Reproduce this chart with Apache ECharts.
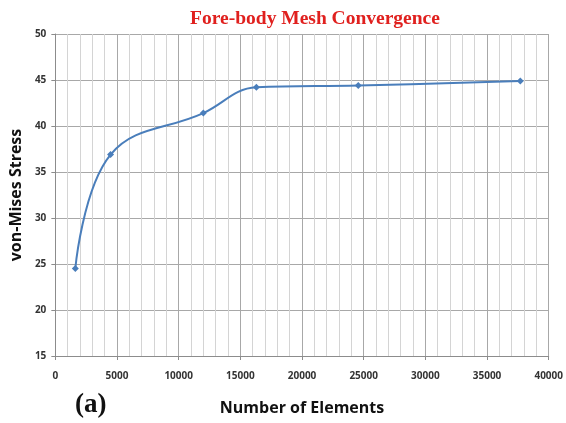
<!DOCTYPE html>
<html>
<head>
<meta charset="utf-8">
<script src="https://cdn.jsdelivr.net/npm/echarts@6/dist/echarts.min.js"></script>
<style>
  html, body { margin: 0; padding: 0; background: #fff; }
  #chart { width: 566px; height: 423px; }
</style>
</head>
<body>
<div id="chart"></div>
<script>
// Mesh convergence study: element count vs. peak von-Mises stress
const elementCounts = [1620, 4480, 12000, 16300, 24560, 37700];
const vonMisesStress = [24.5, 36.9, 41.4, 44.2, 44.4, 44.9];
const xTicks = [0, 5000, 10000, 15000, 20000, 25000, 30000, 35000, 40000];
const yTicks = [15, 20, 25, 30, 35, 40, 45, 50];

const points = elementCounts.map((x, i) => [x, vonMisesStress[i]]);

const chart = echarts.init(document.getElementById('chart'));
chart.setOption({
  animation: false,
  backgroundColor: '#ffffff',
  title: {
    text: 'Fore-body Mesh Convergence',
    left: 310,
    top: 4,
    textAlign: 'center',
    textStyle: {
      fontFamily: 'Liberation Serif',
      fontWeight: 'bold',
      fontSize: 19.5,
      color: '#e0201e'
    }
  },
  graphic: [
    {
      type: 'text',
      left: 75,
      top: 392,
      style: {
        text: '(a)',
        fontFamily: 'Liberation Serif',
        fontWeight: 'bold',
        fontSize: 27,
        fill: '#111'
      }
    }
  ],
  grid: { left: 55, right: 17, top: 34, bottom: 67 },
  xAxis: {
    type: 'value',
    min: xTicks[0],
    max: xTicks[xTicks.length - 1],
    interval: 5000,
    name: 'Number of Elements',
    nameLocation: 'middle',
    nameGap: 44,
    nameTextStyle: {
      fontFamily: 'Open Sans',
      fontWeight: 'bold',
      fontSize: 16,
      color: '#111'
    },
    axisLine: { show: true, lineStyle: { color: '#8c8c8c', width: 1 } },
    axisTick: { show: true, length: 4, lineStyle: { color: '#8c8c8c' } },
    axisLabel: {
      margin: 15,
      formatter: (v) => String(v),
      fontFamily: 'Open Sans',
      fontWeight: 'bold',
      fontSize: 10,
      color: '#333'
    },
    splitLine: { show: true, lineStyle: { color: '#a8a8a8', width: 1 } },
    minorTick: { show: false, splitNumber: 5 },
    minorSplitLine: { show: true, lineStyle: { color: '#d4d4d4', width: 1 } }
  },
  yAxis: {
    type: 'value',
    min: yTicks[0],
    max: yTicks[yTicks.length - 1],
    interval: 5,
    name: 'von-Mises Stress',
    nameLocation: 'middle',
    nameGap: 30,
    nameTextStyle: {
      fontFamily: 'Open Sans',
      fontWeight: 'bold',
      fontSize: 16,
      color: '#111'
    },
    axisLine: { show: true, lineStyle: { color: '#8c8c8c', width: 1 } },
    axisTick: { show: true, length: 4, lineStyle: { color: '#8c8c8c' } },
    axisLabel: {
      margin: 9,
      fontFamily: 'Open Sans',
      fontWeight: 'bold',
      fontSize: 10,
      color: '#333'
    },
    splitLine: { show: true, lineStyle: { color: '#a8a8a8', width: 1 } }
  },
  series: [
    {
      type: 'line',
      data: points,
      smooth: 0.4,
      symbol: 'diamond',
      symbolSize: 7,
      showSymbol: true,
      lineStyle: { color: '#4a7ebb', width: 2 },
      itemStyle: { color: '#4a7ebb' }
    }
  ]
});
</script>
</body>
</html>
